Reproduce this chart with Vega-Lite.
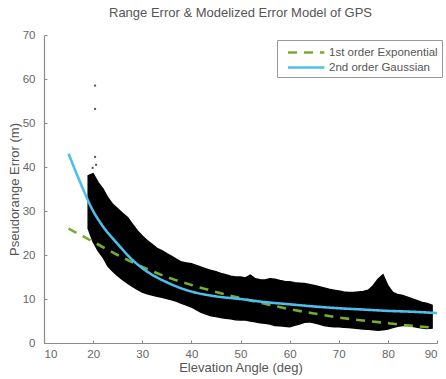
{
  "$schema": "https://vega.github.io/schema/vega-lite/v6.json",
  "width": 393,
  "height": 308,
  "autosize": "none",
  "padding": {"left": 44, "top": 35, "right": 9, "bottom": 36},
  "background": "white",
  "config": {
    "font": "Liberation Sans",
    "view": {"stroke": null},
    "axis": {"grid": false, "domainColor": "#8a8a8a", "tickColor": "#8a8a8a", "labelColor": "#666", "titleColor": "#555", "labelFontSize": 11.5, "titleFontSize": 13, "titleFontWeight": "normal", "domainWidth": 1.2, "tickSize": -3}
  },
  "title": {"text": "Range Error & Modelized Error Model of GPS", "fontSize": 13, "fontWeight": "normal", "color": "#555", "offset": 9},
  "datasets": {
    "cloud": [
      {"elev": 19, "hi": 38, "lo": 26}, {"elev": 20, "hi": 38.5, "lo": 23}, {"elev": 21, "hi": 36.5, "lo": 21},
      {"elev": 22, "hi": 35, "lo": 19.5}, {"elev": 23, "hi": 33, "lo": 17.5}, {"elev": 24, "hi": 31.5, "lo": 16.3},
      {"elev": 25, "hi": 30.5, "lo": 15.3}, {"elev": 26, "hi": 29.5, "lo": 14.4}, {"elev": 27, "hi": 28.5, "lo": 13.6},
      {"elev": 28, "hi": 27, "lo": 12.9}, {"elev": 29, "hi": 25.5, "lo": 12.2}, {"elev": 30, "hi": 24.3, "lo": 11.6},
      {"elev": 31, "hi": 23.3, "lo": 11.2}, {"elev": 32, "hi": 22.4, "lo": 10.9}, {"elev": 33, "hi": 21.5, "lo": 10.6},
      {"elev": 34, "hi": 21, "lo": 10.4}, {"elev": 35, "hi": 20.3, "lo": 10.1}, {"elev": 36, "hi": 19.7, "lo": 9.8},
      {"elev": 37, "hi": 19, "lo": 9.5}, {"elev": 38, "hi": 18.4, "lo": 9.0}, {"elev": 39, "hi": 18.2, "lo": 8.6},
      {"elev": 40, "hi": 18, "lo": 8.2}, {"elev": 41, "hi": 17.6, "lo": 7.6}, {"elev": 42, "hi": 17.2, "lo": 7.0},
      {"elev": 43, "hi": 16.8, "lo": 6.6}, {"elev": 44, "hi": 16.5, "lo": 6.2}, {"elev": 45, "hi": 16.2, "lo": 6.0},
      {"elev": 46, "hi": 15.8, "lo": 5.8}, {"elev": 47, "hi": 15.5, "lo": 5.6}, {"elev": 48, "hi": 15.2, "lo": 5.5},
      {"elev": 49, "hi": 15.0, "lo": 5.3}, {"elev": 50, "hi": 15.0, "lo": 5.2}, {"elev": 51, "hi": 14.8, "lo": 5.2},
      {"elev": 52, "hi": 15.4, "lo": 5.0}, {"elev": 53, "hi": 14.6, "lo": 4.8}, {"elev": 54, "hi": 14.4, "lo": 4.6},
      {"elev": 55, "hi": 14.3, "lo": 4.5}, {"elev": 56, "hi": 14.6, "lo": 4.3}, {"elev": 57, "hi": 14.5, "lo": 4.0},
      {"elev": 58, "hi": 14.2, "lo": 3.9}, {"elev": 59, "hi": 14.0, "lo": 3.8}, {"elev": 60, "hi": 13.9, "lo": 3.7},
      {"elev": 61, "hi": 13.7, "lo": 4.0}, {"elev": 62, "hi": 13.6, "lo": 4.3}, {"elev": 63, "hi": 13.5, "lo": 4.7},
      {"elev": 64, "hi": 13.3, "lo": 4.8}, {"elev": 65, "hi": 13.1, "lo": 4.6}, {"elev": 66, "hi": 12.8, "lo": 4.3},
      {"elev": 67, "hi": 12.5, "lo": 4.0}, {"elev": 68, "hi": 12.2, "lo": 3.8}, {"elev": 69, "hi": 12.0, "lo": 3.7},
      {"elev": 70, "hi": 11.8, "lo": 3.7}, {"elev": 71, "hi": 11.6, "lo": 3.6}, {"elev": 72, "hi": 11.5, "lo": 3.5},
      {"elev": 73, "hi": 11.5, "lo": 3.4}, {"elev": 74, "hi": 11.6, "lo": 3.3}, {"elev": 75, "hi": 11.7, "lo": 3.2},
      {"elev": 76, "hi": 12.0, "lo": 3.1}, {"elev": 77, "hi": 13.0, "lo": 3.0}, {"elev": 78, "hi": 14.5, "lo": 2.9},
      {"elev": 79, "hi": 15.5, "lo": 3.0}, {"elev": 80, "hi": 13.0, "lo": 3.2}, {"elev": 81, "hi": 11.5, "lo": 3.5},
      {"elev": 82, "hi": 11.0, "lo": 3.8}, {"elev": 83, "hi": 10.8, "lo": 4.0}, {"elev": 84, "hi": 10.4, "lo": 4.0},
      {"elev": 85, "hi": 10.0, "lo": 3.8}, {"elev": 86, "hi": 9.6, "lo": 3.6}, {"elev": 87, "hi": 9.2, "lo": 3.4},
      {"elev": 88, "hi": 9.0, "lo": 3.3}, {"elev": 89, "hi": 8.6, "lo": 3.4}
    ],
    "outliers": [
      {"elev": 20.4, "err": 58.5}, {"elev": 20.4, "err": 53.2}, {"elev": 20.4, "err": 42.3},
      {"elev": 20.6, "err": 40.5}, {"elev": 19.9, "err": 39.8}
    ],
    "fits": [
      {"model": "1st order Exponential", "elev": 15, "err": 26}, {"model": "1st order Exponential", "elev": 20, "err": 23},
      {"model": "1st order Exponential", "elev": 25, "err": 20}, {"model": "1st order Exponential", "elev": 30, "err": 17.3},
      {"model": "1st order Exponential", "elev": 35, "err": 15}, {"model": "1st order Exponential", "elev": 40, "err": 13.2},
      {"model": "1st order Exponential", "elev": 45, "err": 11.6}, {"model": "1st order Exponential", "elev": 50, "err": 10.2},
      {"model": "1st order Exponential", "elev": 55, "err": 8.9}, {"model": "1st order Exponential", "elev": 60, "err": 7.7},
      {"model": "1st order Exponential", "elev": 65, "err": 6.7}, {"model": "1st order Exponential", "elev": 70, "err": 5.8},
      {"model": "1st order Exponential", "elev": 75, "err": 5.1}, {"model": "1st order Exponential", "elev": 80, "err": 4.5},
      {"model": "1st order Exponential", "elev": 85, "err": 3.9}, {"model": "1st order Exponential", "elev": 89, "err": 3.5},
      {"model": "2nd order Gaussian", "elev": 15, "err": 43}, {"model": "2nd order Gaussian", "elev": 17, "err": 37.5},
      {"model": "2nd order Gaussian", "elev": 20, "err": 30}, {"model": "2nd order Gaussian", "elev": 22, "err": 26.5},
      {"model": "2nd order Gaussian", "elev": 25, "err": 22.5}, {"model": "2nd order Gaussian", "elev": 27, "err": 20},
      {"model": "2nd order Gaussian", "elev": 30, "err": 17}, {"model": "2nd order Gaussian", "elev": 33, "err": 14.9},
      {"model": "2nd order Gaussian", "elev": 35, "err": 13.8}, {"model": "2nd order Gaussian", "elev": 38, "err": 12.4},
      {"model": "2nd order Gaussian", "elev": 40, "err": 11.7}, {"model": "2nd order Gaussian", "elev": 45, "err": 10.6},
      {"model": "2nd order Gaussian", "elev": 50, "err": 10.0}, {"model": "2nd order Gaussian", "elev": 55, "err": 9.3},
      {"model": "2nd order Gaussian", "elev": 60, "err": 8.8}, {"model": "2nd order Gaussian", "elev": 65, "err": 8.3},
      {"model": "2nd order Gaussian", "elev": 70, "err": 7.9}, {"model": "2nd order Gaussian", "elev": 75, "err": 7.6},
      {"model": "2nd order Gaussian", "elev": 80, "err": 7.3}, {"model": "2nd order Gaussian", "elev": 85, "err": 7.1},
      {"model": "2nd order Gaussian", "elev": 90, "err": 6.8}
    ]
  },
  "encoding": {
    "x": {"field": "elev", "type": "quantitative", "scale": {"domain": [10, 90], "nice": false}, "axis": {"values": [10, 20, 30, 40, 50, 60, 70, 80, 90], "title": "Elevation Angle (deg)", "titlePadding": 2, "labelPadding": 8}},
    "y": {"type": "quantitative", "scale": {"domain": [0, 70], "nice": false}, "axis": {"values": [0, 10, 20, 30, 40, 50, 60, 70], "title": "Pseudorange Error (m)", "titlePadding": 1, "labelPadding": 12}}
  },
  "layer": [
    {
      "data": {"name": "cloud"},
      "mark": {"type": "area", "color": "black", "stroke": "black", "strokeWidth": 1.5, "interpolate": "linear"},
      "encoding": {"y": {"field": "hi", "type": "quantitative"}, "y2": {"field": "lo"}}
    },
    {
      "data": {"name": "outliers"},
      "mark": {"type": "square", "color": "#555", "size": 4, "opacity": 1},
      "encoding": {"y": {"field": "err", "type": "quantitative"}}
    },
    {
      "data": {"name": "fits"},
      "mark": {"type": "line", "strokeWidth": 2.6, "interpolate": "monotone"},
      "encoding": {
        "y": {"field": "err", "type": "quantitative"},
        "color": {"field": "model", "type": "nominal", "scale": {"domain": ["1st order Exponential", "2nd order Gaussian"], "range": ["#77AC30", "#4DBEEE"]},
          "legend": {"title": null, "orient": "none", "legendX": 233, "legendY": 5, "symbolType": "M-1.5,0H3.7", "symbolSize": 196, "symbolStrokeWidth": 2.6, "symbolOffset": 9, "labelFontSize": 11.5, "labelColor": "#555", "strokeColor": "#999", "fillColor": "white", "padding": 4, "rowPadding": 1, "labelOffset": 22}},
        "strokeDash": {"field": "model", "type": "nominal", "scale": {"domain": ["1st order Exponential", "2nd order Gaussian"], "range": [[9, 7], [1, 0]]}}
      }
    }
  ]
}
